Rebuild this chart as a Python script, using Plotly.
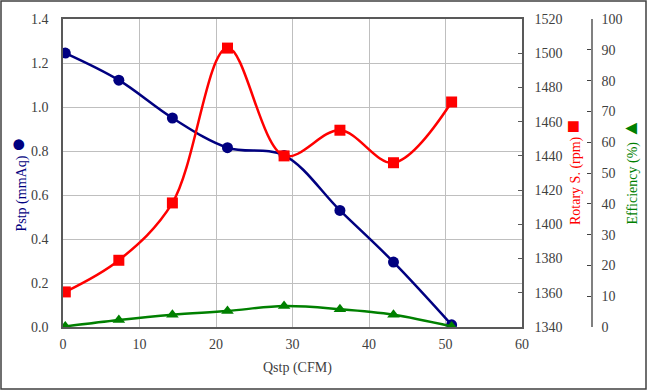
import plotly.graph_objects as go

qstp = [0.3, 7.3, 14.3, 21.5, 28.9, 36.2, 43.2, 50.8]
pstp = [1.245, 1.122, 0.95, 0.815, 0.78, 0.53, 0.295, 0.01]
rotary = [1360.5, 1379, 1412.5, 1503, 1440, 1455, 1436, 1471.5]
efficiency = [0.2, 2.3, 4.0, 5.2, 6.8, 5.8, 4.0, 0.2]

x_ticks = [0, 10, 20, 30, 40, 50, 60]

FONT = "Liberation Serif"
NAVY = "#000080"
RED = "#ff0000"
GREEN = "#008000"
AXIS = "#595959"
GRID = "#bfbfbf"

W, H = 647, 390
ML, MR, MT, MB = 63, 7, 19, 63
PW = W - ML - MR
PH = H - MT - MB
x_end = (522 - ML) / PW
eff_pos = (592 - ML) / PW


def px(x):
    return (x - ML) / PW


def py(y):
    return 1 - (y - MT) / PH


fig = go.Figure()
fig.add_trace(go.Scatter(
    x=qstp, y=pstp, mode="lines+markers", yaxis="y",
    line=dict(color=NAVY, width=2.5, shape="spline", smoothing=1),
    marker=dict(symbol="circle", size=11, color=NAVY),
    name="Pstp", showlegend=False))
fig.add_trace(go.Scatter(
    x=qstp, y=rotary, mode="lines+markers", yaxis="y2",
    line=dict(color=RED, width=2.5, shape="spline", smoothing=1),
    marker=dict(symbol="square", size=11, color=RED),
    name="Rotary S.", showlegend=False))
fig.add_trace(go.Scatter(
    x=qstp, y=efficiency, mode="lines+markers", yaxis="y3",
    line=dict(color=GREEN, width=2.5, shape="spline", smoothing=1),
    marker=dict(symbol="triangle-up", size=11, color=GREEN),
    name="Efficiency", showlegend=False))

tickfont = dict(family=FONT, size=14, color="#404040")

annotations = [
    dict(text="Pstp (mmAq) <span style='font-size:25px'>●</span>", x=px(17), y=py(184.5),
         font=dict(family=FONT, size=14, color=NAVY)),
    dict(text="Rotary S. (rpm) <span style='font-size:22px'>■</span>", x=px(572), y=py(173),
         font=dict(family=FONT, size=14, color=RED)),
    dict(text="Efficiency (%) <span style='font-size:20px'>▲</span>", x=px(629), y=py(171.5),
         font=dict(family=FONT, size=14, color=GREEN)),
]
for a in annotations:
    a.update(xref="paper", yref="paper", textangle=-90, showarrow=False,
             xanchor="center", yanchor="middle")
annotations.append(dict(text="Qstp (CFM)", x=px(297), y=py(368), xref="paper", yref="paper",
                        showarrow=False, xanchor="center", yanchor="middle",
                        font=dict(family=FONT, size=14, color="#404040")))

fig.update_layout(
    width=W, height=H,
    margin=dict(l=ML, r=MR, t=MT, b=MB, autoexpand=False),
    paper_bgcolor="white", plot_bgcolor="white",
    font=dict(family=FONT),
    annotations=annotations,
    xaxis=dict(
        domain=[0, x_end], range=[0, 60], tickvals=x_ticks,
        showgrid=True, gridcolor=GRID, gridwidth=1,
        showline=True, linecolor=AXIS, linewidth=1.5, mirror=True,
        ticks="", tickfont=tickfont, zeroline=False, automargin=False,
        ticklabelstandoff=3,
    ),
    yaxis=dict(
        range=[0, 1.4], tickvals=[0, 0.2, 0.4, 0.6, 0.8, 1.0, 1.2, 1.4],
        ticktext=["0.0", "0.2", "0.4", "0.6", "0.8", "1.0", "1.2", "1.4"],
        showgrid=True, gridcolor=GRID, gridwidth=1,
        showline=True, linecolor=AXIS, linewidth=1.5, mirror=True,
        ticks="", tickfont=tickfont, zeroline=False, automargin=False,
        ticklabelstandoff=10,
    ),
    yaxis2=dict(
        overlaying="y", side="right", anchor="x",
        range=[1340, 1520], tickvals=list(range(1340, 1521, 20)),
        showgrid=False, showline=True, linecolor=AXIS, linewidth=1.5,
        ticks="inside", ticklen=4, tickcolor=AXIS,
        tickfont=tickfont, zeroline=False, automargin=False,
        ticklabelstandoff=8,
    ),
    yaxis3=dict(
        overlaying="y", side="right", anchor="free", position=eff_pos,
        range=[0, 100], tickvals=list(range(0, 101, 10)),
        showgrid=False, showline=True, linecolor="#808080", linewidth=1.5,
        ticks="inside", ticklen=4, tickcolor="#404040",
        tickfont=tickfont, zeroline=False, automargin=False,
        ticklabelstandoff=6,
    ),
    shapes=[dict(
        type="rect", xref="paper", yref="paper",
        x0=px(1), x1=px(W - 1),
        y0=py(H - 1), y1=py(1),
        line=dict(color="#404040", width=1.5), fillcolor="rgba(0,0,0,0)", layer="below",
    )],
)

fig.write_html("out.html", config={"displayModeBar": False},
               post_script="document.body.style.margin='0px';document.body.style.overflow='hidden';")
